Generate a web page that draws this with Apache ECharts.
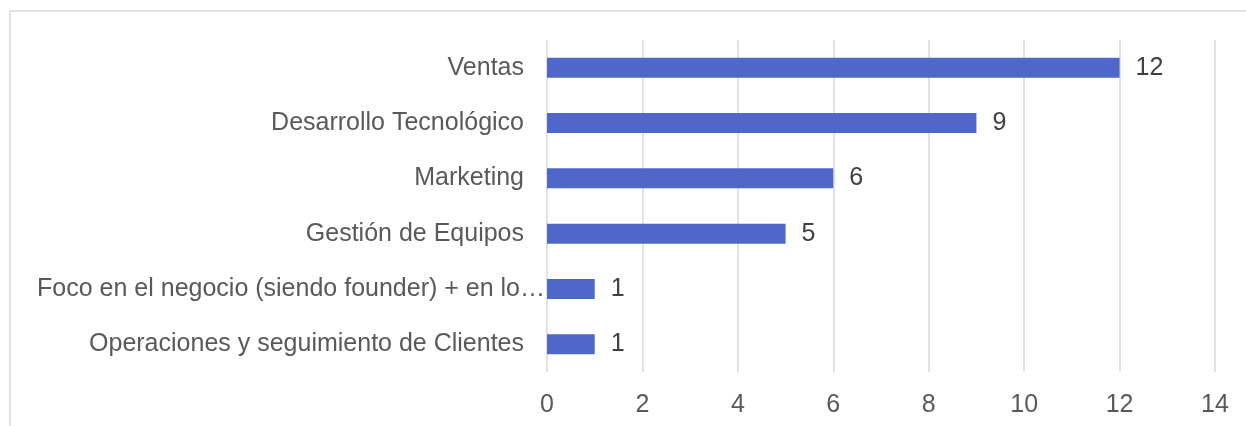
<!DOCTYPE html>
<html>
<head>
<meta charset="utf-8">
<script src="https://cdn.jsdelivr.net/npm/echarts@6/dist/echarts.min.js"></script>
<style>
  html, body { margin: 0; padding: 0; background: #fff; }
  #chart { width: 1246px; height: 426px; }
</style>
</head>
<body>
<div id="chart"></div>
<script>
// categories listed bottom-to-top (ECharts category y axis starts at the bottom)
const categories = [
    "Operaciones y seguimiento de Clientes",
    "Foco en el negocio (siendo founder) + en lo\u2026",
    "Gestión de Equipos",
    "Marketing",
    "Desarrollo Tecnológico",
    "Ventas"
];
const values = [1, 1, 5, 6, 9, 12];
const xTicks = { min: 0, max: 14, interval: 2 };

const textColor = "#595959";
const gridColor = "#d9d9d9";
const barColor = "#4f67c8";
const font = "Liberation Sans, Arial, sans-serif";

// the truncated label runs right up to the bar in the original
const yData = categories.map(c =>
    c.endsWith("\u2026") ? { value: c, textStyle: { padding: [4, -21, 0, 0] } } : c
);

const chart = echarts.init(document.getElementById("chart"));

chart.setOption({
    animation: false,
    backgroundColor: "#fff",
    graphic: [{
        type: "rect",
        shape: { x: 10, y: 11, width: 1300, height: 500 },
        style: { fill: "none", stroke: gridColor, lineWidth: 1.5 },
        silent: true
    }],
    grid: { left: 547, right: 31, top: 40, bottom: 54, containLabel: false },
    xAxis: {
        type: "value",
        min: xTicks.min,
        max: xTicks.max,
        interval: xTicks.interval,
        axisLine: { show: false },
        axisTick: { show: false },
        splitLine: { lineStyle: { color: gridColor, width: 1.5 } },
        axisLabel: { color: textColor, fontSize: 25, fontFamily: font, margin: 21 }
    },
    yAxis: {
        type: "category",
        data: yData,
        axisLine: { show: false },
        axisTick: { show: false },
        axisLabel: { color: textColor, fontSize: 25, fontFamily: font, margin: 23, padding: [4, 0, 0, 0] }
    },
    series: [{
        type: "bar",
        data: values,
        barCategoryGap: "64%",
        itemStyle: { color: barColor },
        label: {
            show: true,
            position: "right",
            distance: 16,
            padding: [4, 0, 0, 0],
            color: "#404040",
            fontSize: 25,
            fontFamily: font
        }
    }]
});
</script>
</body>
</html>
